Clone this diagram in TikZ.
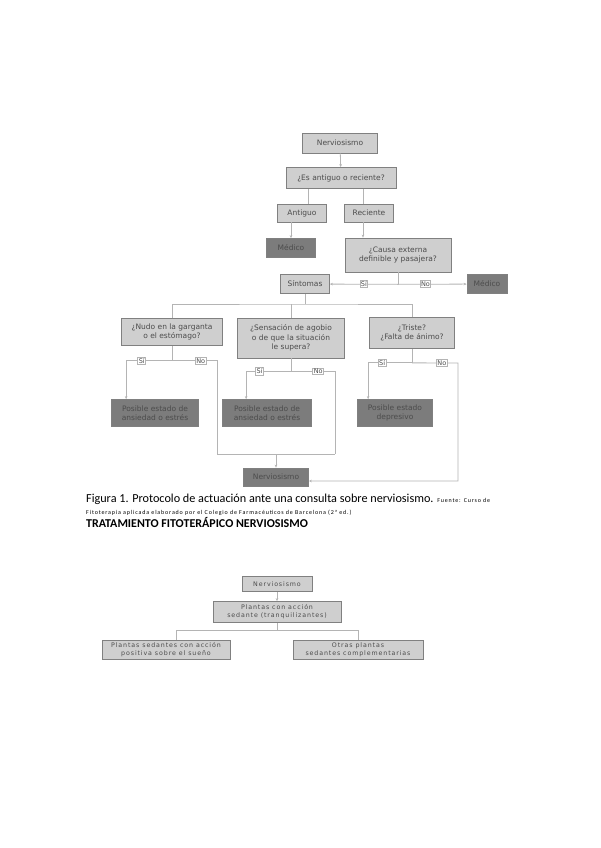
\documentclass[tikz,border=0pt]{standalone}
\usepackage{fontspec}
\setmainfont{Carlito}
\newfontfamily\cajafont{DejaVu Sans}
\newfontfamily\espaciada[LetterSpace=14]{DejaVu Sans}
\newfontfamily\fuentefont[LetterSpace=14]{Carlito}
\usepackage{xcolor}
\usepackage{tikz}
\usetikzlibrary{arrows.meta}

\definecolor{cajagris}{HTML}{CFCFCF}
\definecolor{cajaoscura}{HTML}{7C7C7C}
\definecolor{bordegris}{HTML}{808080}
\definecolor{lineagris}{HTML}{B4B4B4}
\definecolor{textogris}{HTML}{4C4C4C}

\begin{document}
\begin{tikzpicture}[x=1pt,y=-1pt,
    caja/.style={draw=bordegris, line width=0.7pt, fill=cajagris, inner sep=1pt,
      text=textogris, align=center, font=\cajafont\fontsize{7.5}{9.5}\selectfont},
    oscura/.style={caja, fill=cajaoscura, text=black!70},
    peque/.style={caja, font=\espaciada\fontsize{6.3}{8}\selectfont},
    sino/.style={draw=lineagris, fill=white, inner sep=1pt, text=textogris,
      font=\cajafont\fontsize{6.5}{7}\selectfont},
    linea/.style={draw=lineagris, line width=0.8pt},
    flecha/.style={linea, -{Stealth[length=3pt,width=2.5pt]}}]
  \fill[white] (0,0) rectangle (600,848);
  \useasboundingbox (0,0) rectangle (600,848);

  % primer protocolo
  \node[caja, minimum width=75pt, minimum height=20pt] (nerv) at (340,143) {Nerviosismo};
  \node[caja, minimum width=110pt, minimum height=21pt] (pregunta) at (341,178) {¿Es antiguo o reciente?};
  \node[caja, minimum width=49pt, minimum height=18pt] (antiguo) at (302,213) {Antiguo};
  \node[caja, minimum width=49pt, minimum height=18pt] (reciente) at (369,213) {Reciente};
  \node[oscura, minimum width=49pt, minimum height=19pt] (medicoA) at (291,248) {Médico};
  \node[caja, minimum width=106pt, minimum height=34pt] (causa) at (398,255) {¿Causa externa\\definible y pasajera?};
  \node[caja, minimum width=49pt, minimum height=19pt] (sintomas) at (305,284) {Síntomas};
  \node[oscura, minimum width=40pt, minimum height=19pt] (medicoB) at (487,284) {Médico};

  \node[caja, minimum width=101pt, minimum height=27pt] (nudo) at (172,332) {¿Nudo en la garganta\\o el estómago?};
  \node[caja, minimum width=107pt, minimum height=40pt] (sensacion) at (291,338) {¿Sensación de agobio\\o de que la situación\\le supera?};
  \node[caja, minimum width=85pt, minimum height=31pt] (triste) at (412,333) {¿Triste?\\¿Falta de ánimo?};

  \node[oscura, minimum width=87pt, minimum height=27pt] (ansiedadA) at (155,413) {Posible estado de\\ansiedad o estrés};
  \node[oscura, minimum width=89pt, minimum height=27pt] (ansiedadB) at (267,413) {Posible estado de\\ansiedad o estrés};
  \node[oscura, minimum width=75pt, minimum height=27pt] (depresivo) at (395,413) {Posible estado\\depresivo};
  \node[oscura, minimum width=65pt, minimum height=18pt] (nervFin) at (276,477) {Nerviosismo};

  \draw[flecha] (nerv) -- (pregunta);
  \draw[linea] (pregunta.south -| 308,0) -- (antiguo.north -| 308,0);
  \draw[linea] (pregunta.south -| 363,0) -- (reciente.north -| 363,0);
  \draw[flecha] (antiguo.south -| medicoA) -- (medicoA);
  \draw[flecha] (reciente.south -| 363,0) -- (causa.north -| 363,0);

  \draw[linea] (causa.south) -- ++(0,12) coordinate (jc);
  \draw[flecha] (jc) -- node[sino, pos=0.5]{Sí} (sintomas);
  \draw[flecha] (jc) -- node[sino, pos=0.4]{No} (medicoB);

  \coordinate (bus) at (305,304);
  \draw[linea] (sintomas) -- (bus);
  \draw[linea] (nudo.north) |- (bus) -| (triste.north);
  \draw[linea] (sensacion.north) -- (sensacion.north |- bus);

  % ramas Si / No
  \coordinate (bl) at (217,454);
  \coordinate (br) at (335,454);
  \coordinate (cr) at (458,363);
  \draw[linea] (nudo.south) -- ++(0,15) coordinate (j1);
  \draw[flecha] (j1) -| node[sino, pos=0.33]{Sí} ([xshift=15pt]ansiedadA.north west);
  \draw[linea] (j1) -| node[sino, pos=0.32]{No} (bl) -- (br);
  \draw[linea] (sensacion.south) -- ++(0,13) coordinate (j2);
  \draw[flecha] (j2) -| node[sino, pos=0.35]{Sí} ([xshift=24pt]ansiedadB.north west);
  \draw[linea] (j2) -| node[sino, pos=0.31]{No} (br);
  \draw[flecha] (nervFin.north |- bl) -- (nervFin);
  \draw[linea] (triste.south) -- ++(0,14) coordinate (j3);
  \draw[flecha] (j3) -| node[sino, pos=0.34]{Sí} ([xshift=11pt]depresivo.north west);
  \draw[flecha] (j3) -- node[sino, pos=0.65]{No} (cr) |- ([yshift=-4pt]nervFin.east);

  % pie de figura
  \node[anchor=base west, inner sep=0pt] (pie) at (86,502)
    {\fontsize{12.2}{14}\selectfont Figura 1. Protocolo de actuación ante una consulta sobre nerviosismo. {\fuentefont\fontsize{6}{7}\selectfont Fuente: Curso de}};
  \node[anchor=base west, inner sep=0pt] (fuente) at (86,514)
    {\fuentefont\fontsize{6}{7}\selectfont Fitoterapia aplicada elaborado por el Colegio de Farmacéuticos de Barcelona (2ª ed.)};
  \node[anchor=base west, inner sep=0pt] (titulo) at (86,527)
    {\fontsize{12}{14}\selectfont\bfseries TRATAMIENTO FITOTERÁPICO NERVIOSISMO};

  % segundo esquema
  \node[peque, minimum width=70pt, minimum height=15pt] (nervB) at (277,584) {Nerviosismo};
  \node[peque, minimum width=128pt, minimum height=21pt] (plantas) at (277,612) {Plantas con acción\\sedante (tranquilizantes)};
  \node[peque, minimum width=128pt, minimum height=19pt] (suenio) at (166,650) {Plantas sedantes con acción\\positiva sobre el sueño};
  \node[peque, minimum width=130pt, minimum height=19pt] (otras) at (358,650) {Otras plantas\\sedantes complementarias};

  \draw[flecha] (nervB) -- (plantas);
  \draw[linea] (plantas.south) -- ++(0,8) coordinate (jb);
  \draw[linea] (jb) -| ([xshift=75pt]suenio.north west);
  \draw[linea] (jb) -| (otras.north);
\end{tikzpicture}
\end{document}
